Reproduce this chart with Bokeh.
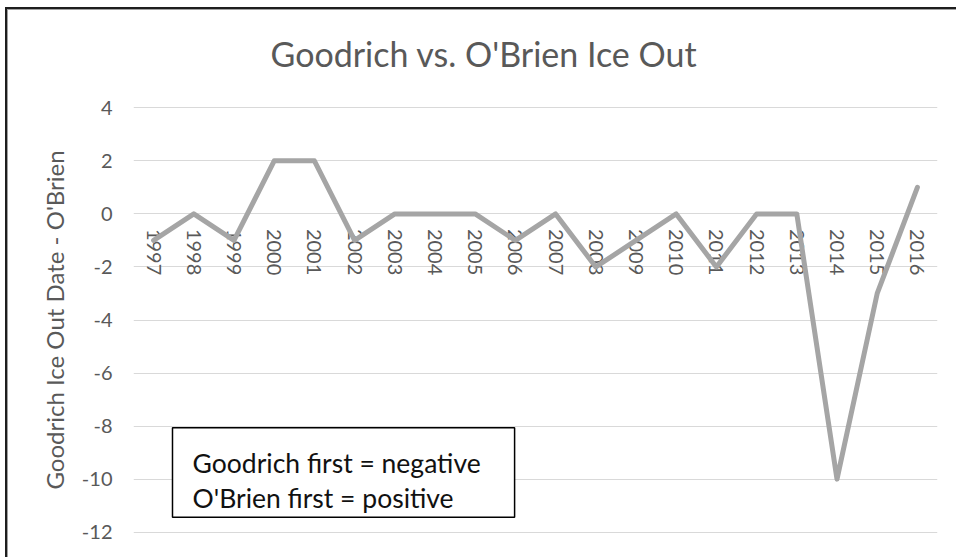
from bokeh.plotting import figure
from bokeh.models import FactorRange, Range1d, FixedTicker, BoxAnnotation, Label, PrintfTickFormatter
from bokeh.embed import file_html
from bokeh.resources import INLINE

# ---- data ----
years = ["1997", "1998", "1999", "2000", "2001", "2002", "2003", "2004", "2005", "2006",
         "2007", "2008", "2009", "2010", "2011", "2012", "2013", "2014", "2015", "2016"]
diff_days = [-1, 0, -1, 2, 2, -1, 0, 0, 0, -1, 0, -2, -1, 0, -2, 0, 0, -10, -3, 1]
y_ticks = [4, 2, 0, -2, -4, -6, -8, -10, -12]
title_text = "Goodrich vs. O'Brien Ice Out"
y_label = "Goodrich Ice Out Date - O'Brien"
note_lines = ["Goodrich first = negative", "O'Brien first = positive"]

FONT = "Lato"
GREY_TXT = "#595959"

p = figure(width=956, height=557, x_range=FactorRange(*years, range_padding=0),
           y_range=Range1d(min(y_ticks) - 0.05, max(y_ticks) + 0.05),
           output_backend="svg", toolbar_location=None,
           min_border_left=133, min_border_right=19, min_border_top=105, min_border_bottom=24)
p.outline_line_color = None
p.background_fill_color = "white"
# transparent outer canvas so the page-level border lines (drawn by CSS) show through
p.border_fill_alpha = 0.0
p.styles = {
    "background": ("linear-gradient(#1e1e1e, #1e1e1e) 5px 7px / 951px 2px no-repeat, "
                   "linear-gradient(#1e1e1e, #1e1e1e) 5px 7px / 2px 550px no-repeat, "
                   "linear-gradient(#a0a0a0, #a0a0a0) 7px 9px / 949px 1px no-repeat, "
                   "linear-gradient(#a0a0a0, #a0a0a0) 7px 9px / 1px 548px no-repeat, "
                   "#ffffff"),
}

# title
p.title.text = title_text
p.title.text_font = FONT
p.title.text_font_size = "34px"
p.title.text_font_style = "normal"
p.title.text_color = GREY_TXT
p.title.align = "left"
p.title.offset = 137
p.title.vertical_align = "middle"
p.title.standoff = 63

# grid
p.xgrid.grid_line_color = None
p.ygrid.grid_line_color = "#D9D9D9"
p.ygrid.grid_line_width = 1

# y axis
p.yaxis.ticker = FixedTicker(ticks=y_ticks)
p.yaxis.formatter = PrintfTickFormatter(format="%d")
p.yaxis.axis_line_color = None
p.yaxis.major_tick_line_color = None
p.yaxis.major_tick_out = 0
p.yaxis.minor_tick_line_color = None
p.yaxis.major_label_standoff = 21
p.yaxis.major_label_text_font = FONT
p.yaxis.major_label_text_font_size = "20px"
p.yaxis.major_label_text_color = GREY_TXT
p.yaxis.axis_label = y_label
p.yaxis.axis_label_text_font = FONT
p.yaxis.axis_label_text_font_size = "24px"
p.yaxis.axis_label_text_font_style = "normal"
p.yaxis.axis_label_text_color = GREY_TXT
p.yaxis.axis_label_standoff = 10

# x axis crossing at zero
p.xaxis.fixed_location = 0
p.xaxis.axis_line_color = None
p.xaxis.major_tick_line_color = None
p.xaxis.major_tick_out = 0
p.xaxis.minor_tick_line_color = None
p.xaxis.major_label_orientation = "vertical"
p.xaxis.major_label_standoff = 15
p.xaxis.major_label_text_font = FONT
p.xaxis.major_label_text_font_size = "20px"
p.xaxis.major_label_text_color = GREY_TXT

# line
r = p.line(x=years, y=diff_days, line_color="#A5A5A5", line_width=5,
           line_join="round", line_cap="round")
r.level = "overlay"

# note box
box = BoxAnnotation(left=0.97, right=9.48, top=-8.06, bottom=-11.44,
                    fill_color="white", fill_alpha=1.0,
                    line_color="#000000", line_alpha=1.0, line_width=1.5, level="overlay")
p.add_layout(box)
for txt, yy in zip(note_lines, [-9.41, -10.72]):
    p.add_layout(Label(x=1.47, y=yy, text=txt, text_font=FONT, text_font_size="26.5px",
                       text_color="#111111", text_baseline="alphabetic", text_align="left",
                       level="overlay"))

open("out.html", "w").write(file_html(p, INLINE))
